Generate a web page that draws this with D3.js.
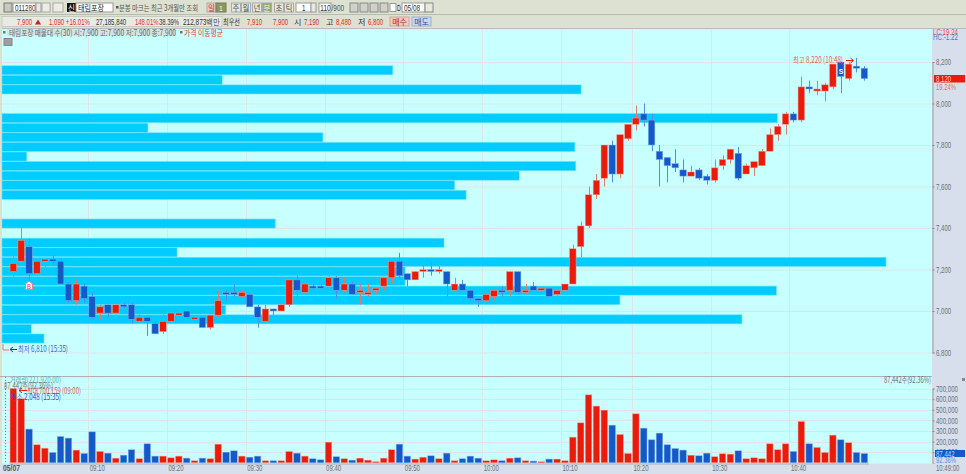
<!DOCTYPE html>
<html><head><meta charset="utf-8">
<script src="https://d3js.org/d3.v7.min.js"></script>
<style>html,body{margin:0;padding:0;background:#dde1d2;overflow:hidden}svg{display:block}</style>
</head><body><svg id="c" width="966" height="474"></svg>
<script>
// minute categories (one minute has no trade)
const times = ["09:00","09:01","09:02","09:03","09:04","09:05","09:06","09:07","09:08","09:09","09:10","09:11","09:12","09:13","09:14","09:15","09:16","09:17","09:18","09:19","09:20","09:21","09:22","09:23","09:24","09:25","09:26","09:27","09:28","09:29","09:30","09:31","09:32","09:33","09:34","09:35","09:36","09:37","09:38","09:39","09:40","09:41","09:42","09:43","09:44","09:45","09:46","09:47","09:48","09:49","09:50","09:51","09:52","09:53","09:54","09:55","09:56","09:57","09:58","09:59","10:00","10:01","10:02","10:03","10:04","10:05","10:06","10:07","10:08","10:09","10:10","10:11","10:12","10:13","10:14","10:15","10:16","10:18","10:19","10:20","10:21","10:22","10:23","10:24","10:25","10:26","10:27","10:28","10:29","10:30","10:31","10:32","10:33","10:34","10:35","10:36","10:37","10:38","10:39","10:40","10:41","10:42","10:43","10:44","10:45","10:46","10:47","10:48","10:49"];
const opens = [7190,7240,7310,7180,7240,7250,7240,7130,7050,7120,7070,6990,7030,6990,7030,7030,6950,6970,6940,6900,6950,6980,7000,6960,6970,6920,6980,7090,7090,7070,7080,7020,6950,7010,7000,7030,7150,7090,7120,7120,7120,7160,7100,7130,7090,7080,7100,7120,7160,7240,7180,7150,7190,7200,7190,7190,7100,7130,7100,7060,7050,7070,7100,7100,7190,7090,7120,7100,7110,7080,7100,7130,7310,7410,7560,7640,7800,7660,7830,7900,7950,7920,7770,7740,7710,7680,7650,7680,7650,7630,7700,7730,7760,7660,7690,7700,7770,7850,7900,7950,7920,8080,8060,8060,8080,8200,8120,8180,8170];
const closes = [7230,7340,7180,7240,7250,7240,7130,7050,7130,7060,6970,7020,6990,7030,7020,6960,6970,6950,6890,6950,6990,6990,6970,6970,6920,6980,7050,7080,7080,7090,7020,6970,7010,7000,7030,7150,7100,7130,7110,7110,7160,7100,7130,7080,7100,7090,7110,7160,7240,7170,7150,7190,7200,7190,7200,7130,7130,7100,7060,7050,7080,7100,7090,7190,7090,7100,7100,7110,7070,7100,7130,7300,7410,7560,7630,7800,7660,7850,7900,7930,7920,7800,7730,7700,7690,7650,7670,7640,7630,7690,7730,7780,7640,7700,7720,7770,7850,7890,7950,7920,8080,8070,8070,8090,8190,8130,8190,8170,8120];
const highs = [7270,7430,7350,7250,7250,7270,7250,7140,7150,7130,7090,7030,7030,7030,7040,7040,6990,6970,6950,6990,7010,7020,7000,6980,6970,6980,7100,7100,7130,7100,7080,7030,7030,7010,7030,7150,7170,7150,7130,7130,7210,7170,7160,7140,7130,7130,7110,7160,7240,7280,7180,7190,7220,7240,7230,7190,7160,7150,7100,7060,7080,7100,7120,7190,7190,7130,7140,7120,7110,7100,7130,7320,7430,7600,7660,7800,7820,7850,7900,7990,8000,7950,7800,7740,7780,7730,7700,7690,7660,7730,7750,7780,7790,7710,7720,7780,7880,7900,7960,7960,8130,8110,8110,8100,8190,8200,8200,8220,8180];
const lows = [7150,7220,7140,7170,7180,7220,7130,7040,7030,7040,6960,6960,6970,6990,7010,6940,6950,6880,6890,6890,6950,6980,6960,6950,6920,6910,6970,7050,7070,7070,7020,6920,6940,6980,7000,7020,7060,7090,7100,7120,7120,7060,7090,7080,7030,7070,7080,7100,7130,7150,7120,7150,7160,7170,7180,7070,7100,7100,7050,7020,7050,7050,7070,7070,7080,7080,7100,7100,7070,7070,7100,7130,7260,7400,7540,7600,7620,7640,7820,7870,7890,7770,7600,7620,7670,7620,7650,7630,7610,7620,7680,7710,7630,7660,7650,7700,7770,7820,7850,7910,7910,8050,8040,8010,8070,8050,8110,8150,8110];
const volumes = [700159,604000,318000,170000,138000,97000,248000,233000,120000,88000,292000,107000,91000,44000,72000,123000,38000,179000,63000,63000,47000,63000,44000,19000,44000,38000,176000,100000,113000,63000,53000,63000,19000,19000,19000,107000,91000,63000,38000,28000,195000,57000,38000,25000,44000,25000,10000,44000,123000,176000,63000,35000,53000,66000,38000,91000,19000,38000,63000,44000,19000,28000,19000,44000,47000,19000,16000,10000,35000,35000,19000,242000,377000,641000,535000,497000,355000,267000,88000,462000,327000,217000,280000,170000,135000,120000,72000,66000,91000,57000,85000,82000,113000,38000,47000,38000,179000,123000,179000,107000,390000,179000,145000,97000,261000,217000,189000,97000,87442];
// volume-at-price rows, top to bottom, share of the largest row (%)
const profileRows = [0,44.2,24.9,65.5,0,0,87.7,16.5,36.3,64.8,2.8,64.9,58.5,51.2,52.5,0,0,30.9,0,50,19.8,100,45.6,45.6,87.6,69.9,25.3,83.7,3.3,4.75];
const priceTicks = [8200,8000,7800,7600,7400,7200,7000,6800];
const volumeTicks = [700000,600000,500000,400000,300000,200000,100000];
const timeTicks = ["09:10","09:20","09:30","09:40","09:50","10:00","10:10","10:20","10:30","10:40"];
const RED="#ea1b0a", BLUE="#1558c8", BG="#c8ffff", PANEL="#d6dfeb", TOOL="#dde1d2", GRID="#dde6e6";
const FONT="'Noto Sans CJK KR','Liberation Sans',sans-serif";
const NUM="'Liberation Sans',sans-serif";
// bitmap-like narrow width for numeric strings
const numLen=s=>d3.sum(Array.from(s),c=>/[0-9]/.test(c)?3.4:/[,.:]/.test(c)?1.5:c==="%"?5:c===" "?2:c==="/"?2.5:c==="+"||c==="-"?3.4:3.8);

const svg=d3.select("#c");
const x=d3.scaleBand().domain(times).range([9.36,868.3]).paddingInner(0.17).paddingOuter(0.085);
const y=d3.scaleLinear().domain([8200,6800]).range([62,352.5]);
const yv=d3.scaleLinear().domain([0,700000]).range([462.8,388.6]);
const xp=d3.scaleLinear().domain([0,100]).range([2,886]);
const yp=d3.scaleBand().domain(d3.range(30)).range([56.2,343]).paddingInner(0.06).paddingOuter(0);
const cx=t=>x(t)+x.bandwidth()/2;
const gridX=t=>x(t)-x.step()*x.paddingInner()/2;

function label(px,py,s,color,o={}){
  const e=svg.append("text").attr("x",px).attr("y",py).text(s).attr("fill",color)
    .attr("font-family",o.family||FONT).attr("font-size",o.size||8)
    .attr("font-weight",o.weight||"normal").attr("text-anchor",o.anchor||"start");
  const len=o.len||(o.family===NUM?numLen(s):0);
  if(len) e.attr("textLength",len).attr("lengthAdjust","spacingAndGlyphs");
  return e;
}
function box(px,py,w,h,fill,stroke){
  return svg.append("rect").attr("x",px).attr("y",py).attr("width",w).attr("height",h).attr("fill",fill).attr("stroke",stroke||"none");
}

// window background
box(0,0,966,474,TOOL);
// panes
box(2,28.5,930,436,BG);
box(932,28.5,34,445.5,PANEL);
box(0,463.5,932,10.5,PANEL);

// grid
svg.append("g").selectAll("line").data(priceTicks).join("line").attr("x1",2).attr("x2",932).attr("y1",d=>y(d)+.5).attr("y2",d=>y(d)+.5).attr("stroke",GRID);
svg.append("g").selectAll("line").data(volumeTicks).join("line").attr("x1",2).attr("x2",932).attr("y1",d=>Math.round(yv(d))+.5).attr("y2",d=>Math.round(yv(d))+.5).attr("stroke",GRID);
svg.append("g").selectAll("line").data(timeTicks).join("line").attr("x1",d=>Math.round(gridX(d))+.5).attr("x2",d=>Math.round(gridX(d))+.5).attr("y1",28.5).attr("y2",473).attr("stroke",GRID);

// volume-at-price rows
svg.append("g").selectAll("rect").data(profileRows.map((v,i)=>({v,i})).filter(d=>d.v>0)).join("rect")
  .attr("x",xp(0)).attr("y",d=>yp(d.i)).attr("width",d=>xp(d.v)-xp(0)).attr("height",yp.bandwidth())
  .attr("fill","#00ccff").attr("stroke","#5fe0ff").attr("stroke-width",.6);

// candles
const candles=times.map((t,i)=>({t,o:opens[i],c:closes[i],h:highs[i],l:lows[i],v:volumes[i],up:closes[i]>=opens[i]}));
const cg=svg.append("g");
cg.selectAll("line").data(candles).join("line")
  .attr("x1",d=>Math.round(cx(d.t))+.5).attr("x2",d=>Math.round(cx(d.t))+.5)
  .attr("y1",d=>y(d.h)).attr("y2",d=>y(d.l))
  .attr("stroke",d=>d.up?"#e47a6c":"#4f8fe4").attr("stroke-width",1);
cg.selectAll("rect").data(candles).join("rect")
  .attr("x",d=>x(d.t)).attr("width",x.bandwidth())
  .attr("y",d=>y(Math.max(d.o,d.c))).attr("height",d=>Math.max(1.5,Math.abs(y(d.o)-y(d.c))))
  .attr("fill",d=>d.up?RED:BLUE).attr("stroke",d=>d.up?"#f0a090":"#7fb0ee").attr("stroke-width",.5);

// volume bars
svg.append("g").selectAll("rect").data(candles).join("rect")
  .attr("x",d=>x(d.t)).attr("width",x.bandwidth())
  .attr("y",d=>yv(d.v)).attr("height",d=>yv(0)-yv(d.v))
  .attr("fill",d=>d.up?RED:BLUE).attr("stroke",d=>d.up?"#f0a090":"#7fb0ee").attr("stroke-width",.5);

// axes
const fmt=d3.format(",");
const ax=svg.append("g").attr("transform","translate(932.5,0)").call(d3.axisRight(y).tickValues(priceTicks).tickFormat(fmt).tickSize(2).tickPadding(1.5));
const av=svg.append("g").attr("transform","translate(932.5,0)").call(d3.axisRight(yv).tickValues(volumeTicks).tickFormat(fmt).tickSize(2).tickPadding(1.5));
[ax,av].forEach(a=>{a.selectAll("text").attr("fill","#6e7378").attr("font-family",NUM).attr("font-size",8.5)
    .attr("textLength",d=>numLen(fmt(d))).attr("lengthAdjust","spacingAndGlyphs");
  a.selectAll("line").attr("stroke","#8a9098"); a.select(".domain").attr("stroke","#9aa0a6");});
const at=svg.append("g").attr("transform","translate(0,463.5)").call(d3.axisBottom(x).tickValues(timeTicks).tickSize(0).tickPadding(0));
at.select(".domain").attr("stroke","#a8adb0");
at.selectAll(".tick text").attr("text-anchor","start").attr("x",d=>gridX(d)-cx(d)+1.5).attr("y",1.5).attr("dy",".71em").attr("fill","#6e7378").attr("font-family",NUM).attr("font-size",8.5)
  .attr("textLength",d=>numLen(d)).attr("lengthAdjust","spacingAndGlyphs");
label(3,471,"05/07","#555",{family:NUM,size:8.5,weight:"bold",len:17});
label(936,471,"10:49:00","#6e7378",{family:NUM,size:8.5});
// pane separator
svg.append("line").attr("x1",0).attr("x2",932).attr("y1",376.5).attr("y2",376.5).attr("stroke","#aeb4b4");
svg.append("line").attr("x1",2).attr("x2",966).attr("y1",28.5).attr("y2",28.5).attr("stroke","#b6bcc0");
svg.append("line").attr("x1",5.5).attr("x2",5.5).attr("y1",377).attr("y2",463).attr("stroke","#5a86e0").attr("stroke-dasharray","1,2");

// right panel labels
label(933,34.5,"LC:19.24","#e8504a",{family:NUM,size:8.5,len:25});
label(933,40,"HC:-1.22","#4a78d8",{family:NUM,size:8.5,len:25});
box(934,75,31,7.5,RED);
label(936,82,"8,120","#ffd0c0",{family:NUM,size:8.5});
label(936,90,"19.24%","#e8706a",{family:NUM,size:8.5});
box(935,450,30,7,BLUE);
label(936,456.8,"87,442","#bcd4ff",{family:NUM,size:8.5});
label(936,463,"92.36%","#5a90e8",{family:NUM,size:8.5});
box(962,378,3,3,"#888");

// annotations
label(793,63,"최고 8,220 (10:48)","#e8605a",{size:8.5,len:50});
svg.append("path").attr("d","M846 60.5H853M850.5 58L853.5 60.5L850.5 63").attr("stroke",RED).attr("fill","none");
label(18,352,"최저 6,810 (15:35)","#4a58e0",{size:8.5,len:50});
svg.append("path").attr("d","M10 349.5H17M13 347L10 349.5L13 352").attr("stroke","#1a2ce0").attr("fill","none");
svg.append("path").attr("d","M3 344V350H9").attr("stroke","#e07a6c").attr("fill","none");
label(10,383,"거래량(221,920.00)","#58b0a8",{size:8.5,len:51});
label(4,389,"87,442주(92.36%)","#777",{size:8.5,len:49});
label(27,393.5,"최대 700,159 (09:00)","#e8504a",{size:8.5,len:54});
svg.append("path").attr("d","M19 390.5H27M22 388L19 390.5L22 393").attr("stroke",RED).attr("fill","none");
label(11,400,"최소 2,048 (15:35)","#4040e0",{size:8.5,len:50});
label(884,383,"87,442주(92.36%)","#6e7378",{size:8.5,len:47});

// buy / sell marks
svg.append("path").attr("d","M25.5 284L29 281L32.5 284V289.5H25.5Z").attr("fill","#fff").attr("stroke","#f08090");
label(29,288.5,"B","#e03050",{family:NUM,size:6.5,anchor:"middle",len:4});
label(841,73.5,"S","#fff",{family:NUM,size:8,anchor:"middle",weight:"bold",len:4.5});

// chart legend
box(7,29,169,7,"#d8e4e4");
box(3,31,2.5,2.5,"#777");
label(9,35.5,"태림포장 매물대 수(30)  시:7,900 고:7,900 저:7,900 종:7,900","#666",{size:8.5,len:167});
box(180,31,2.5,2.5,"#777");
label(184,35.5,"가격 이동평균","#e83838",{size:8.5,len:39});
box(4,38.5,8,7,"#9aa0a0","#888");

// toolbar row 1
box(4,3,8,9,"#c8c8c0","#777");
box(13,3,23,9,"#fff","#999");
label(15,10.5,"011280","#333",{family:NUM,size:8.5});
box(36,3,5,9,"#e8e8e0","#999");
box(42,3,8,9,"#ececE4","#aaa");
box(53,3,10,9,"#ececE4","#aaa");
box(67,3,9,9,"#111");
label(71.5,10.5,"신","#fff",{size:7.5,anchor:"middle"});
box(76,3,37,9,"#fff","#999");
label(78,10.5,"태림포장","#222",{size:8.5,len:26});
box(116,6,2.5,2.5,"#555");
label(119,10.5,"분봉 마크는 최근 3개월만 조회","#555",{size:8.5,len:79});
box(207,3,9,9,"#f0c8c0","#aaa");
label(211.5,10.5,"일","#b04040",{size:7.5,anchor:"middle"});
box(216,3,10,9,"#8a9a50","#777");
label(221,10.5,"1","#fff",{family:NUM,size:8,anchor:"middle"});
[["주",236],["월",246],["년",257],["분",267],["초",279],["틱",289]].forEach(([s,px])=>{
  box(px-4.5,3,9,9,s==="분"?"#9aaa60":"#e6e8dc","#aaa");
  label(px,10.5,s,s==="분"?"#eef":"#555",{size:7.5,anchor:"middle"});
});
box(296,3,15,9,"#fff","#999");
label(302,10.5,"1","#333",{family:NUM,size:8.5});
box(311,3,5,9,"#e8e8e0","#999");
box(319,3,12,9,"#fff","#999");
label(330.5,10.5,"110","#333",{family:NUM,size:8.5,anchor:"end"});
label(331.5,10.5,"/900","#555",{family:NUM,size:8.5});
[350,360,370,380].forEach(px=>box(px,3,8,9,"#d0d2c8","#888"));
box(390,3.5,6,8,"#fff","#999");
label(397,10.5,"D","#333",{family:NUM,size:8.5});
box(402,3,23,9,"#fff","#999");
label(404,10.5,"05/08","#333",{family:NUM,size:8.5});
box(425,3,8,9,"#e6e8dc","#888");

// toolbar row 2
svg.append("line").attr("x1",0).attr("x2",966).attr("y1",14.5).attr("y2",14.5).attr("stroke","#b8bcb0");
box(2,16.5,220,10,"#e8eae4","#c8ccc0");
label(17,25,"7,900","#e82828",{family:NUM,size:8.5});
svg.append("path").attr("d","M35 24.5L38 19.5L41 24.5Z").attr("fill","#d81818");
label(49,25,"1,090 +16.01%","#e82828",{family:NUM,size:8.5,len:41});
label(96,25,"27,185,840","#333",{family:NUM,size:8.5});
label(135,25,"148.01%","#e82828",{family:NUM,size:8.5});
label(159,25,"38.39%","#333",{family:NUM,size:8.5});
label(183,25,"212,873백만","#333",{family:NUM,size:8.5,len:37});
label(223,25,"최우선","#333",{size:8.5,len:17});
label(247,25,"7,910","#e82828",{family:NUM,size:8.5});
label(273,25,"7,900","#e82828",{family:NUM,size:8.5});
label(294,25,"시","#333",{size:8});
label(304,25,"7,190","#e82828",{family:NUM,size:8.5});
label(326,25,"고","#333",{size:8});
label(336,25,"8,480","#e82828",{family:NUM,size:8.5});
label(358,25,"저","#333",{size:8});
label(368,25,"6,800","#e82828",{family:NUM,size:8.5});
box(390,17,19,9,"#f4c8c0","#c8a8a0");
label(399.5,25,"매수","#a03030",{size:8,anchor:"middle"});
box(412,17,19,9,"#c4d8f4","#a0b0c8");
label(421.5,25,"매도","#3050a0",{size:8,anchor:"middle"});
</script></body></html>
